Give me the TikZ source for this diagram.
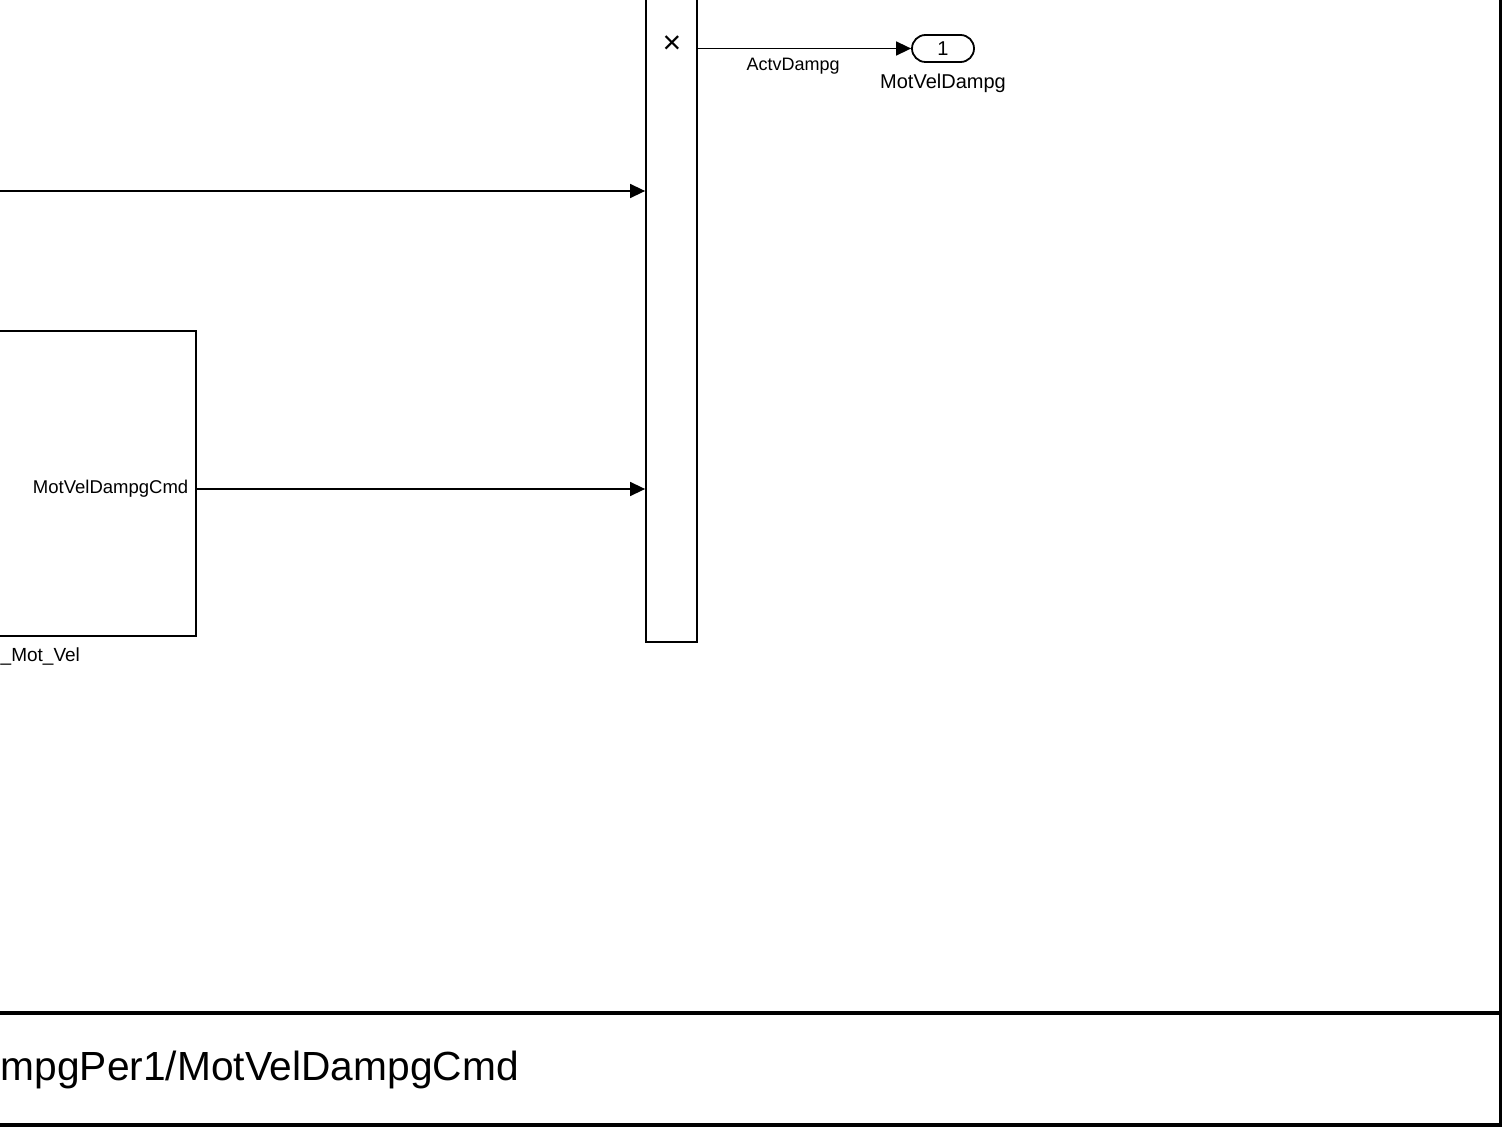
\documentclass[tikz,border=0pt]{standalone}
\usepackage{fontspec}
\setmainfont{Liberation Sans}
\usetikzlibrary{arrows.meta}
\usetikzlibrary{positioning}
\tikzset{>={Triangle[width=14pt,length=15pt]}}
\tikzset{blk/.style={draw, line width=1.8pt, inner sep=0pt}}
\newcommand{\SIG}[1]{{\fontsize{18}{18}\selectfont #1}}

\begin{document}
\begin{tikzpicture}[x=1pt, y=-1pt, line width=1.5pt]
  \useasboundingbox (0,0) rectangle (1506,1131);

  % product block and output port
  \node[blk, minimum width=51pt, minimum height=662pt] (prod) at (671.5,311) {};
  \node[font=\fontsize{32}{32}\selectfont, inner sep=0pt] (prodmark) at (672,45) {×};

  \node[blk, rounded corners=13.5pt, minimum width=62pt, minimum height=27pt]
  (out1) at (943,48.5) {\fontsize{20}{20}\selectfont 1};
  \node[font=\fontsize{20}{20}\selectfont] (out1name) at (943,83) {MotVelDampg};

  % subsystem
  \node[blk, minimum width=300pt, minimum height=305pt] (sub) at (46,483.5) {};
  \node[anchor=east, inner sep=0pt, font=\fontsize{18.5}{18.5}\selectfont]
  (subport) at (189,489) {MotVelDampgCmd};
  \node[anchor=west, inner sep=0pt, font=\fontsize{19}{19}\selectfont]
  (subname) at (0,656) {\_Mot\_Vel};

  % signals
  \coordinate (src2) at (-5,191);
  \draw[->] (src2) -- (src2 -| prod.west);
  \draw[->] (sub.east |- subport) -- (prod.west |- subport);
  \draw[->] (prod.east |- out1) -- (out1.west)
  node[pos=0.447, below=9pt, inner sep=0pt] (actv) {\SIG{ActvDampg}};

  % frame and title
  \draw[line width=3.5pt] (-10,1013) -- (1500.5,1013);
  \draw[line width=3.5pt] (1500.5,-10) -- (1500.5,1125) -- (-10,1125);
  \node[anchor=west, inner sep=0pt, font=\fontsize{40.7}{40.7}\selectfont]
  (title) at (0,1070) {mpgPer1/MotVelDampgCmd};
\end{tikzpicture}
\end{document}
